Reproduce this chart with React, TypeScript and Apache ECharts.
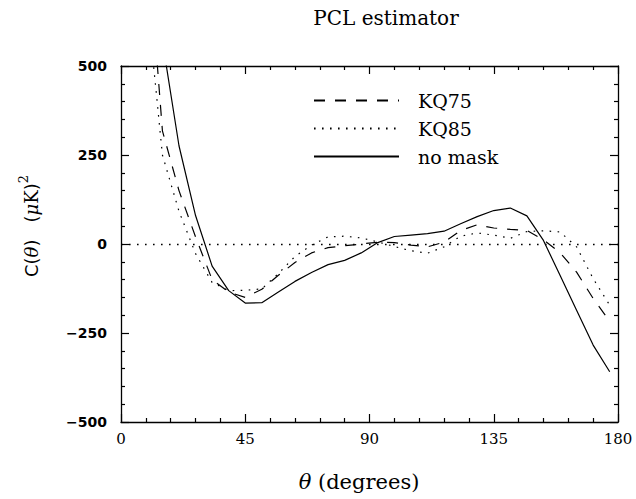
import React, { useEffect, useRef } from "react";
import * as echarts from "echarts";

// angular separation (degrees), bin centres
const theta = [9, 15, 21, 27, 33, 39, 45, 51, 57, 63, 69, 75, 81, 87, 93, 99, 105, 111, 117, 123, 129, 135, 141, 147, 153, 159, 165, 171, 177];
// C(theta) in (muK)^2
const kq75 = [920, 318, 150, 20, -100, -135, -150, -127, -88, -52, -25, -10, -5, 0, 5, 4, -3, -8, 5, 38, 54, 45, 41, 38, 12, -24, -79, -153, -217];
const kq85 = [720, 250, 92, -27, -108, -131, -130, -126, -83, -35, -3, 20, 22, 17, 6, -7, -19, -26, -8, 22, 31, 25, 16, 35, 37, 34, -8, -97, -172];
const noMask = [1100, 570, 276, 80, -62, -131, -166, -165, -135, -105, -80, -58, -46, -25, 4, 21, 25, 29, 36, 57, 77, 94, 101, 79, 10, -88, -186, -284, -359];

const seriesNames = ["KQ75", "KQ85", "no mask"];
const xMin = 0, xMax = 180, xStep = 45;
const yMin = -500, yMax = 500, yStep = 250;

export default function App() {
  const ref = useRef<HTMLDivElement>(null);
  useEffect(() => {
    const chart = echarts.init(ref.current!, null, { renderer: "svg" });
    const pair = (ys: number[]) => theta.map((t, i) => [t, ys[i]]);
    const serif = "'DejaVu Serif', serif";
    const sans = "'DejaVu Sans', sans-serif";
    const black = "#000";
    const lineAxis = { onZero: false, lineStyle: { color: black, width: 1.3 } };
    const tick = { show: true, inside: true, length: 8, lineStyle: { color: black, width: 1.2 } };
    const minor = { show: true, splitNumber: 5, length: 4, lineStyle: { color: black, width: 1.2 } };
    const xCommon = { type: "value", min: xMin, max: xMax, interval: xStep, axisLine: lineAxis, axisTick: tick, minorTick: minor, splitLine: { show: false } };
    const yCommon = { type: "value", min: yMin, max: yMax, interval: yStep, axisLine: lineAxis, axisTick: tick, minorTick: minor, splitLine: { show: false } };
    const mk = (name: string, ys: number[], type: any) => ({
      name,
      type: "line",
      data: pair(ys),
      symbol: "none",
      showSymbol: false,
      clip: true,
      lineStyle: { color: black, width: 1.2, type },
      itemStyle: { color: black },
    });
    const solid = mk("no mask", noMask, "solid") as any;
    solid.markLine = {
      silent: true,
      symbol: ["none", "none"],
      label: { show: false },
      lineStyle: { color: black, width: 1.3, type: [1.6, 6.4] },
      data: [{ yAxis: 0 }],
    };
    chart.setOption({
      animation: false,
      backgroundColor: "#fff",
      title: {
        text: "PCL estimator",
        left: 381,
        top: 3,
        textAlign: "center",
        textStyle: { fontFamily: serif, fontSize: 20, fontWeight: "normal", color: black },
      },
      legend: {
        data: seriesNames,
        orient: "vertical",
        left: 313,
        top: 90,
        padding: 0,
        itemWidth: 85,
        itemHeight: 14,
        itemGap: 7,
        selectedMode: false,
        itemStyle: { opacity: 0 },
        textStyle: { fontFamily: serif, fontSize: 19, color: black, lineHeight: 21, padding: [0, 0, 0, 14] },
      },
      grid: { left: 121, top: 66, width: 497, height: 356, containLabel: false },
      xAxis: [
        {
          ...xCommon,
          position: "bottom",
          axisLabel: { show: true, margin: 9, fontFamily: serif, fontSize: 15, color: black },
        },
        { ...xCommon, position: "top", axisLabel: { show: false } },
      ],
      yAxis: [
        {
          ...yCommon,
          position: "left",
          axisLabel: {
            show: true,
            margin: 14,
            fontFamily: sans,
            fontWeight: "bold",
            fontSize: 14,
            color: black,
            formatter: (v: number) => (v < 0 ? "\u2212" + Math.abs(v) : String(v)),
          },
        },
        { ...yCommon, position: "right", axisLabel: { show: false } },
      ],
      graphic: [
        {
          type: "text",
          x: 359,
          y: 482,
          style: {
            text: "{i|θ} {r|(degrees)}",
            align: "center",
            verticalAlign: "middle",
            fontFamily: serif,
            fontSize: 21,
            fill: black,
            rich: {
              i: { fontFamily: serif, fontSize: 21, fontStyle: "italic", fill: black },
              r: { fontFamily: serif, fontSize: 21, fill: black },
            },
          },
        },
        {
          type: "text",
          x: 31,
          y: 226,
          rotation: Math.PI / 2,
          style: {
            text: "{s|C(}{i|θ}{s|)}   {s|(}{i|μ}{r|K}{s|)}{p|2}",
            align: "center",
            verticalAlign: "middle",
            fontFamily: sans,
            fontSize: 18,
            fill: black,
            rich: {
              s: { fontFamily: sans, fontSize: 18, lineHeight: 28, fill: black },
              i: { fontFamily: serif, fontSize: 18, lineHeight: 28, fontStyle: "italic", fill: black },
              r: { fontFamily: serif, fontSize: 18, lineHeight: 28, fill: black },
              p: { fontFamily: serif, fontSize: 13, lineHeight: 16, verticalAlign: "top", fill: black },
            },
          },
        },
      ],
      series: [mk("KQ75", kq75, [11, 10]), mk("KQ85", kq85, [1.6, 6.4]), solid],
    });
    return () => chart.dispose();
  }, []);
  return (
    <div
      ref={ref}
      style={{ position: "fixed", left: 0, top: 0, width: 636, height: 499, background: "#fff" }}
    />
  );
}
